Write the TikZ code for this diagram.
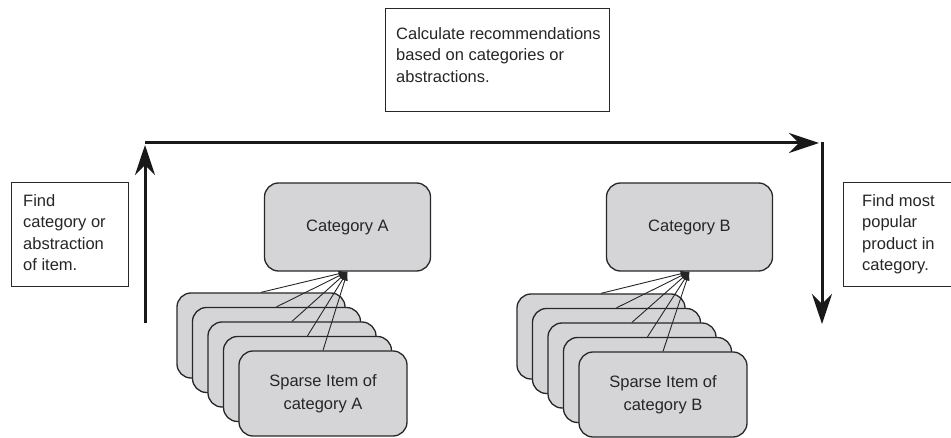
\documentclass[tikz,border=0pt]{standalone}
\usepackage{fontspec}
\setmainfont{Liberation Sans}
\usetikzlibrary{arrows.meta}
\definecolor{boxgray}{RGB}{213,213,215}
\definecolor{edge}{RGB}{40,40,40}
\begin{document}
\begin{tikzpicture}[x=1pt,y=-1pt,
  txt/.style={font=\fontsize{16.5}{21.5}\selectfont, inner sep=0pt, align=left, anchor=north west, text=black!85},
  plainbox/.style={draw=edge, line width=1.2pt, fill=white, inner sep=0pt, anchor=north west},
  catbox/.style={draw=edge, line width=1.3pt, fill=boxgray, rounded corners=14pt, minimum width=166pt, minimum height=88pt, inner sep=0pt, font=\fontsize{16.5}{21.5}\selectfont, text=black!85, align=center},
  itembox/.style={draw=edge, line width=1.3pt, fill=boxgray, rounded corners=14pt, minimum width=168pt, minimum height=85pt, inner sep=0pt, font=\fontsize{16.5}{23}\selectfont, text=black!85, align=center},
  thin/.style={line width=0.9pt, draw=black!85, -{Latex[length=9pt,width=6pt]}},
  thick/.style={line width=3pt, draw=black!90, -{Stealth[length=30pt,width=20pt,inset=10pt]}}
]
\useasboundingbox (0,0) rectangle (951,438);

% text boxes
\node[plainbox, minimum width=224pt, minimum height=103pt] (calcbox) at (385,8) {};
\node[txt] (calctxt) at (396,27) {Calculate recommendations\\based on categories or\\abstractions.};

\node[plainbox, minimum width=117pt, minimum height=104pt] (findbox) at (11,182) {};
\node[txt] (findtxt) at (23,194) {Find\\category or\\abstraction\\of item.};

\node[plainbox, minimum width=108pt, minimum height=104pt] (popbox) at (843,182) {};
\node[txt] (poptxt) at (862,194) {Find most\\popular\\product in\\category.};

% category boxes
\node[catbox] (catA) at (347.5,227) {Category A};
\node[catbox] (catB) at (689.5,227) {Category B};

% item stacks A
\foreach \i/\dx/\dy in {1/0/0,2/15.5/14.5,3/31/29,4/46.5/43.5}{
  \node[itembox] (sa\i) at (261+\dx,335.5+\dy) {};
}
\node[itembox] (sa5) at (323,393.5) {Sparse Item of\\category A};

% item stacks B
\foreach \i/\dx/\dy in {1/0/0,2/15.5/14.5,3/31/29,4/46.5/43.5}{
  \node[itembox] (sb\i) at (601+\dx,336.5+\dy) {};
}
\node[itembox] (sb5) at (663,394.5) {Sparse Item of\\category B};

% thin arrows
\foreach \i in {1,...,5}{
  \draw[thin] (sa\i.north) -- (catA.south);
  \draw[thin] (sb\i.north) -- (catB.south);
}

% thick arrows
\coordinate (l0) at (145,323);
\coordinate (l1) at (145,145);
\coordinate (h0) at (145,143);
\coordinate (h1) at (819,143);
\coordinate (r0) at (822,142);
\coordinate (r1) at (822,324);
\draw[thick] (l0) -- (l1);
\draw[thick] (h0) -- (h1);
\draw[thick] (r0) -- (r1);
\end{tikzpicture}
\end{document}
